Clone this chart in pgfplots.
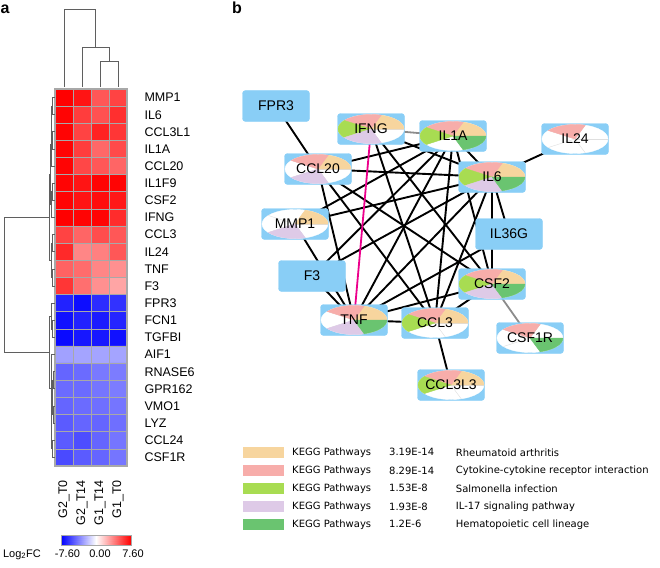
\documentclass[border=0pt]{standalone}
\usepackage{pgfplots}
\pgfplotsset{compat=1.18}
\usepackage{pgfplotstable}
\usepackage{fontspec}
\setmainfont{Liberation Sans}
\newfontfamily\legfont{DejaVu Sans}
\definecolor{boxblue}{RGB}{137,206,246}
\definecolor{cRA}{RGB}{247,213,158}
\definecolor{cCY}{RGB}{247,173,170}
\definecolor{cSA}{RGB}{168,220,82}
\definecolor{cIL}{RGB}{222,202,231}
\definecolor{cHM}{RGB}{106,196,112}
\definecolor{dendro}{RGB}{95,95,95}
\definecolor{gridg}{RGB}{168,168,168}
\definecolor{edgegray}{RGB}{140,140,140}
\newcommand\rowf{\fontsize{12.5}{14}\selectfont}
\newcommand\cbf{\fontsize{11}{12}\selectfont}
\newcommand\netf{\fontsize{14}{15}\selectfont}
\newcommand\legf{\legfont\fontsize{10}{12}\selectfont}
\newcommand\pieslice[3]{\fill[#1] (0pt,0pt) -- (#2:33pt and 14.5pt) arc[start angle=#2, end angle=#3, x radius=33pt, y radius=14.5pt] -- cycle;}
% plain box mark: mark name, label
\newcommand\boxmark[2]{%
  \pgfdeclareplotmark{#1}{%
    \fill[boxblue, rounded corners=3pt] (-33.5pt,-15.5pt) rectangle (33.5pt,15.5pt);
    \node[font=\netf, text=black, inner sep=0pt] at (0pt,0pt) {#2};}}
% pie mark: mark name, label, RA, CY, SA, IL, HM flags
\newcommand\piemark[7]{%
  \pgfdeclareplotmark{#1}{%
    \fill[boxblue, rounded corners=3pt] (-33.5pt,-15.5pt) rectangle (33.5pt,15.5pt);
    \fill[white] (0pt,0pt) ellipse [x radius=33pt, y radius=14.5pt];
    \draw[gray!25, line width=0.4pt] (0pt,0pt) -- (0:33pt and 14.5pt);
    \draw[gray!25, line width=0.4pt] (0pt,0pt) -- (72:33pt and 14.5pt);
    \draw[gray!25, line width=0.4pt] (0pt,0pt) -- (144:33pt and 14.5pt);
    \draw[gray!25, line width=0.4pt] (0pt,0pt) -- (216:33pt and 14.5pt);
    \draw[gray!25, line width=0.4pt] (0pt,0pt) -- (288:33pt and 14.5pt);
    \ifnum#3=1 \pieslice{cRA}{0}{72}\fi
    \ifnum#4=1 \pieslice{cCY}{72}{144}\fi
    \ifnum#5=1 \pieslice{cSA}{144}{216}\fi
    \ifnum#6=1 \pieslice{cIL}{216}{288}\fi
    \ifnum#7=1 \pieslice{cHM}{288}{360}\fi
    \node[font=\netf, text=black, inner sep=0pt] at (0pt,0pt) {#2};
  }}
\boxmark{mFPR}{FPR3}
\boxmark{mFthree}{F3}
\boxmark{mILthreesix}{IL36G}
\piemark{mIFNG}{IFNG}{1}{1}{1}{1}{0}
\piemark{mCCLtwenty}{CCL20}{1}{1}{0}{1}{0}
\piemark{mMMP}{MMP1}{1}{0}{0}{1}{0}
\piemark{mTNF}{TNF}{1}{1}{0}{1}{1}
\piemark{mILoneA}{IL1A}{1}{1}{1}{0}{1}
\piemark{mILtwentyfour}{IL24}{0}{1}{0}{0}{0}
\piemark{mILsix}{IL6}{1}{1}{1}{1}{1}
\piemark{mCSFtwo}{CSF2}{1}{1}{1}{1}{1}
\piemark{mCCLthree}{CCL3}{1}{1}{1}{0}{0}
\piemark{mCCLthreeLthree}{CCL3L3}{1}{1}{1}{0}{0}
\piemark{mCSFoneR}{CSF1R}{0}{1}{0}{0}{1}

\pgfplotstableread{
x y v
64 97.57 7.6
82 97.57 7.0
100 97.57 5.0
118 97.57 5.6
64 114.71 7.5
82 114.71 5.8
100 114.71 5.2
118 114.71 6.2
64 131.84 7.5
82 131.84 5.6
100 131.84 6.6
118 131.84 6.0
64 148.98 7.5
82 148.98 5.8
100 148.98 4.5
118 148.98 5.4
64 166.12 7.5
82 166.12 5.5
100 166.12 5.0
118 166.12 4.6
64 183.25 7.5
82 183.25 7.0
100 183.25 7.5
118 183.25 7.5
64 200.39 7.5
82 200.39 7.0
100 200.39 7.2
118 200.39 6.9
64 217.52 7.6
82 217.52 7.5
100 217.52 7.5
118 217.52 6.3
64 234.66 5.6
82 234.66 4.6
100 234.66 5.3
118 234.66 5.0
64 251.80 6.4
82 251.80 3.6
100 251.80 3.8
118 251.80 5.0
64 268.93 4.7
82 268.93 4.4
100 268.93 3.6
118 268.93 3.3
64 286.07 6.0
82 286.07 4.3
100 286.07 3.3
118 286.07 2.7
64 303.20 -6.6
82 303.20 -7.2
100 303.20 -6.3
118 303.20 -6.1
64 320.34 -7.1
82 320.34 -6.6
100 320.34 -6.8
118 320.34 -6.5
64 337.48 -7.3
82 337.48 -6.9
100 337.48 -6.9
118 337.48 -7.1
64 354.61 -2.8
82 354.61 -2.7
100 354.61 -2.7
118 354.61 -2.7
64 371.75 -4.6
82 371.75 -4.4
100 371.75 -4.0
118 371.75 -3.9
64 388.88 -4.4
82 388.88 -4.4
100 388.88 -4.1
118 388.88 -3.9
64 406.02 -4.6
82 406.02 -4.4
100 406.02 -4.3
118 406.02 -4.1
64 423.16 -4.9
82 423.16 -4.6
100 423.16 -4.6
118 423.16 -4.3
64 440.29 -4.9
82 440.29 -5.3
100 440.29 -4.6
118 440.29 -4.1
64 457.43 -5.4
82 457.43 -4.9
100 457.43 -4.6
118 457.43 -4.1
}\heat

\pgfplotstableread{
x y v
61 535 -7.6
96 535 0
131 535 7.6
61 545 -7.6
96 545 0
131 545 7.6
}\cbar

\begin{document}
\begin{tikzpicture}
\begin{axis}[
  width=660pt, height=567pt, scale only axis,
  xmin=0, xmax=660, ymin=0, ymax=567, y dir=reverse,
  hide axis, clip=false,
  colormap={bwr}{rgb255=(0,0,255) rgb255=(255,255,255) rgb255=(255,0,0)},
  point meta min=-7.6, point meta max=7.6,
  netedge/.style={black, line width=1.9pt, no markers},
  dend/.style={dendro, line width=0.8pt, no markers},
]
% ---------- heatmap ----------
\addplot[matrix plot*, mesh/cols=4, point meta=explicit] table[x=x, y=y, meta=v] {\heat};
\pgfplotsinvokeforeach{0,...,22}{\draw[gridg, line width=0.7pt] (axis cs:55,{89+17.136*#1}) -- (axis cs:127,{89+17.136*#1});}
\pgfplotsinvokeforeach{55,73,91,109,127}{\draw[gridg, line width=0.7pt] (axis cs:#1,89) -- (axis cs:#1,466);}
\draw[gridg, line width=1.3pt] (axis cs:55,89) rectangle (axis cs:127,466);

% ---------- top dendrogram ----------
\addplot[dend] coordinates {(64,87) (64,9) (95.5,9) (95.5,47)};
\addplot[dend] coordinates {(82,87) (82,47) (109,47) (109,61)};
\addplot[dend] coordinates {(100,87) (100,61) (118,61) (118,87)};

% ---------- left dendrogram ----------
\addplot[dend] coordinates {(54.5,97.57) (52.5,97.57) (52.5,114.71) (54.5,114.71)};
\addplot[dend] coordinates {(54.5,131.84) (52.5,131.84) (52.5,148.98) (54.5,148.98)};
\addplot[dend] coordinates {(52.5,106.14) (51.8,106.14) (51.8,140.41) (52.5,140.41)};
\addplot[dend] coordinates {(51.8,123.28) (51,123.28) (51,166.12) (54.5,166.12)};
\addplot[dend] coordinates {(54.5,183.25) (52.5,183.25) (52.5,200.39) (54.5,200.39)};
\addplot[dend] coordinates {(52.5,191.82) (51.8,191.82) (51.8,217.52) (54.5,217.52)};
\addplot[dend] coordinates {(51,144.7) (50.2,144.7) (50.2,204.67) (51.8,204.67)};
\addplot[dend] coordinates {(54.5,234.66) (52.5,234.66) (52.5,251.80) (54.5,251.80)};
\addplot[dend] coordinates {(54.5,268.93) (52.8,268.93) (52.8,286.07) (54.5,286.07)};
\addplot[dend] coordinates {(52.5,243.23) (51.8,243.23) (51.8,277.5) (52.8,277.5)};
\addplot[dend] coordinates {(50.2,174.69) (49.5,174.69) (49.5,260.37) (51.8,260.37)};
\addplot[dend] coordinates {(54.5,320.34) (52.5,320.34) (52.5,337.48) (54.5,337.48)};
\addplot[dend] coordinates {(54.5,303.20) (51.5,303.20) (51.5,328.91) (52.5,328.91)};
\addplot[dend] coordinates {(54.5,371.75) (53,371.75) (53,388.88) (54.5,388.88)};
\addplot[dend] coordinates {(54.5,406.02) (53,406.02) (53,423.16) (54.5,423.16)};
\addplot[dend] coordinates {(53,380.32) (52.3,380.32) (52.3,414.59) (53,414.59)};
\addplot[dend] coordinates {(54.5,440.29) (52.8,440.29) (52.8,457.43) (54.5,457.43)};
\addplot[dend] coordinates {(52.3,397.46) (51.8,397.46) (51.8,448.86) (52.8,448.86)};
\addplot[dend] coordinates {(54.5,354.61) (51,354.61) (51,423.16) (51.8,423.16)};
\addplot[dend] coordinates {(51.5,316.06) (49.5,316.06) (49.5,388.89) (51,388.89)};
\addplot[dend] coordinates {(49.5,217.53) (4,217.53) (4,352.48) (49.5,352.48)};

% ---------- row labels ----------
\node[anchor=west, font=\rowf] at (axis cs:141,97.57) {MMP1};
\node[anchor=west, font=\rowf] at (axis cs:141,114.71) {IL6};
\node[anchor=west, font=\rowf] at (axis cs:141,131.84) {CCL3L1};
\node[anchor=west, font=\rowf] at (axis cs:141,148.98) {IL1A};
\node[anchor=west, font=\rowf] at (axis cs:141,166.12) {CCL20};
\node[anchor=west, font=\rowf] at (axis cs:141,183.25) {IL1F9};
\node[anchor=west, font=\rowf] at (axis cs:141,200.39) {CSF2};
\node[anchor=west, font=\rowf] at (axis cs:141,217.52) {IFNG};
\node[anchor=west, font=\rowf] at (axis cs:141,234.66) {CCL3};
\node[anchor=west, font=\rowf] at (axis cs:141,251.80) {IL24};
\node[anchor=west, font=\rowf] at (axis cs:141,268.93) {TNF};
\node[anchor=west, font=\rowf] at (axis cs:141,286.07) {F3};
\node[anchor=west, font=\rowf] at (axis cs:141,303.20) {FPR3};
\node[anchor=west, font=\rowf] at (axis cs:141,320.34) {FCN1};
\node[anchor=west, font=\rowf] at (axis cs:141,337.48) {TGFBI};
\node[anchor=west, font=\rowf] at (axis cs:141,354.61) {AIF1};
\node[anchor=west, font=\rowf] at (axis cs:141,371.75) {RNASE6};
\node[anchor=west, font=\rowf] at (axis cs:141,388.88) {GPR162};
\node[anchor=west, font=\rowf] at (axis cs:141,406.02) {VMO1};
\node[anchor=west, font=\rowf] at (axis cs:141,423.16) {LYZ};
\node[anchor=west, font=\rowf] at (axis cs:141,440.29) {CCL24};
\node[anchor=west, font=\rowf] at (axis cs:141,457.43) {CSF1R};

% ---------- column labels ----------
\node[anchor=east, rotate=90, font=\rowf, inner sep=1pt] at (axis cs:64,479) {G2\_T0};
\node[anchor=east, rotate=90, font=\rowf, inner sep=1pt] at (axis cs:82,479) {G2\_T14};
\node[anchor=east, rotate=90, font=\rowf, inner sep=1pt] at (axis cs:100,479) {G1\_T14};
\node[anchor=east, rotate=90, font=\rowf, inner sep=1pt] at (axis cs:118,479) {G1\_T0};

% ---------- colour bar ----------
\addplot[surf, shader=interp, mesh/cols=3, point meta=explicit] table[x=x, y=y, meta=v] {\cbar};
\draw[gridg, line width=1pt] (axis cs:61,535) rectangle (axis cs:131,545);
\node[font=\cbf, inner sep=0pt] at (axis cs:22,554.5) {Log\textsubscript{2}FC};
\node[font=\cbf, inner sep=0pt] at (axis cs:67.5,554) {-7.60};
\node[font=\cbf, inner sep=0pt] at (axis cs:100,554) {0.00};
\node[font=\cbf, inner sep=0pt] at (axis cs:133,554) {7.60};

% ---------- panel letters ----------
\node[anchor=base west, font=\bfseries\fontsize{16}{16}\selectfont, inner sep=0pt] at (axis cs:0.5,13.5) {a};
\node[anchor=base west, font=\bfseries\fontsize{16}{16}\selectfont, inner sep=0pt] at (axis cs:232,14) {b};

% ---------- network edges ----------
\addplot[netedge] coordinates {(276,106) (318,169)};
\addplot[netedge] coordinates {(371,129) (492,177)};
\addplot[netedge] coordinates {(371,129) (435,323)};
\addplot[netedge] coordinates {(371,129) (492,284)};
\addplot[netedge] coordinates {(453,136) (492,177)};
\addplot[netedge] coordinates {(453,136) (318,169)};
\addplot[netedge] coordinates {(453,136) (354,320)};
\addplot[netedge] coordinates {(453,136) (435,323)};
\addplot[netedge] coordinates {(453,136) (492,284)};
\addplot[netedge] coordinates {(453,136) (312,276)};
\addplot[netedge] coordinates {(492,177) (318,169)};
\addplot[netedge] coordinates {(492,177) (354,320)};
\addplot[netedge] coordinates {(492,177) (435,323)};
\addplot[netedge] coordinates {(492,177) (492,284)};
\addplot[netedge] coordinates {(318,169) (354,320)};
\addplot[netedge] coordinates {(318,169) (435,323)};
\addplot[netedge] coordinates {(318,169) (492,284)};
\addplot[netedge] coordinates {(354,320) (435,323)};
\addplot[netedge] coordinates {(354,320) (492,284)};
\addplot[netedge] coordinates {(354,320) (509,234)};
\addplot[netedge] coordinates {(435,323) (492,284)};
\addplot[netedge] coordinates {(295,224) (354,320)};
\addplot[netedge] coordinates {(295,224) (492,177)};
\addplot[netedge] coordinates {(295,224) (453,136)};
\addplot[netedge] coordinates {(312,276) (354,320)};
\addplot[netedge] coordinates {(312,276) (492,177)};
\addplot[netedge] coordinates {(492,177) (509,234)};
\addplot[netedge] coordinates {(492,177) (575,139)};
\addplot[netedge] coordinates {(435,323) (451,385)};
\addplot[edgegray, line width=1.8pt, no markers] coordinates {(371,129) (453,136)};
\addplot[edgegray, line width=1.8pt, no markers] coordinates {(492,284) (530,338)};
\addplot[magenta, line width=1.8pt, no markers] coordinates {(371,129) (354,320)};

% ---------- network nodes ----------
\addplot[only marks, mark=mFPR] coordinates {(276,106)};
\addplot[only marks, mark=mFthree] coordinates {(312,276)};
\addplot[only marks, mark=mILthreesix] coordinates {(509,234)};
\addplot[only marks, mark=mIFNG] coordinates {(371,129)};
\addplot[only marks, mark=mCCLtwenty] coordinates {(318,169)};
\addplot[only marks, mark=mMMP] coordinates {(295,224)};
\addplot[only marks, mark=mTNF] coordinates {(354,320)};
\addplot[only marks, mark=mILoneA] coordinates {(453,136)};
\addplot[only marks, mark=mILtwentyfour] coordinates {(575,139)};
\addplot[only marks, mark=mILsix] coordinates {(492,177)};
\addplot[only marks, mark=mCSFtwo] coordinates {(492,284)};
\addplot[only marks, mark=mCCLthree] coordinates {(435,323)};
\addplot[only marks, mark=mCCLthreeLthree] coordinates {(451,385)};
\addplot[only marks, mark=mCSFoneR] coordinates {(530,338)};

% ---------- legend ----------
\fill[cRA] (axis cs:243,446.6) rectangle (axis cs:284,458);
\fill[cCY] (axis cs:243,465) rectangle (axis cs:284,476.4);
\fill[cSA] (axis cs:243,482.6) rectangle (axis cs:284,494);
\fill[cIL] (axis cs:243,501) rectangle (axis cs:284,512.4);
\fill[cHM] (axis cs:243,518.6) rectangle (axis cs:284,530);
\node[anchor=west, font=\legf, inner sep=0pt] at (axis cs:292,452.3) {KEGG Pathways};
\node[anchor=west, font=\legf, inner sep=0pt] at (axis cs:292,470.7) {KEGG Pathways};
\node[anchor=west, font=\legf, inner sep=0pt] at (axis cs:292,488.3) {KEGG Pathways};
\node[anchor=west, font=\legf, inner sep=0pt] at (axis cs:292,506.7) {KEGG Pathways};
\node[anchor=west, font=\legf, inner sep=0pt] at (axis cs:292,524.3) {KEGG Pathways};
\node[anchor=west, font=\legf, inner sep=0pt] at (axis cs:389,452.3) {3.19E-14};
\node[anchor=west, font=\legf, inner sep=0pt] at (axis cs:389,470.7) {8.29E-14};
\node[anchor=west, font=\legf, inner sep=0pt] at (axis cs:389,488.3) {1.53E-8};
\node[anchor=west, font=\legf, inner sep=0pt] at (axis cs:389,506.7) {1.93E-8};
\node[anchor=west, font=\legf, inner sep=0pt] at (axis cs:389,524.3) {1.2E-6};
\node[anchor=west, font=\legf, inner sep=0pt] at (axis cs:455.7,452.3) {Rheumatoid arthritis};
\node[anchor=west, font=\legf, inner sep=0pt] at (axis cs:455.7,470.7) {Cytokine-cytokine receptor interaction};
\node[anchor=west, font=\legf, inner sep=0pt] at (axis cs:455.7,488.3) {Salmonella infection};
\node[anchor=west, font=\legf, inner sep=0pt] at (axis cs:455.7,506.7) {IL-17 signaling pathway};
\node[anchor=west, font=\legf, inner sep=0pt] at (axis cs:455.7,524.3) {Hematopoietic cell lineage};
\end{axis}
\pgfresetboundingbox
\path (0,0) rectangle (660pt,567pt);
\end{tikzpicture}
\end{document}
